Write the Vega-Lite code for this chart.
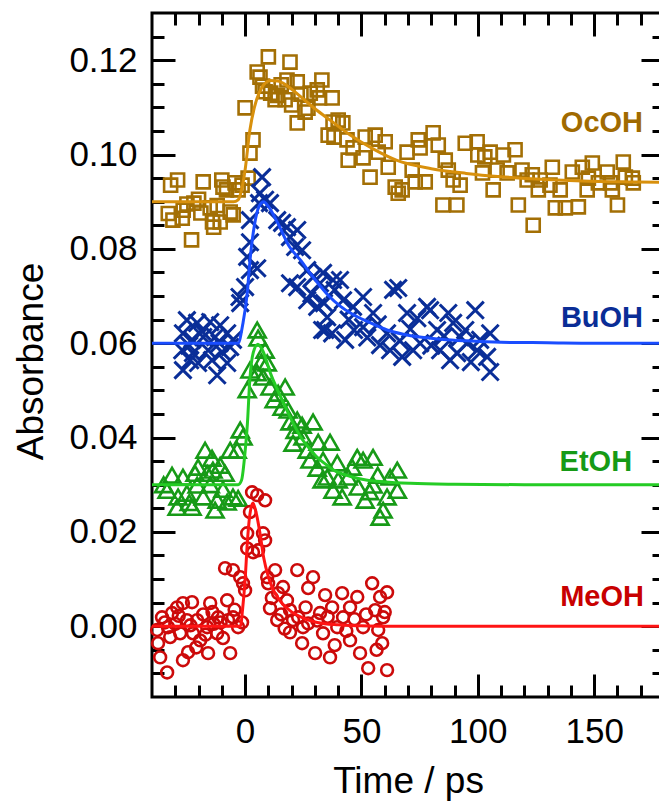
{
"$schema": "https://vega.github.io/schema/vega-lite/v6.json",
"width": 512, "height": 684,
"autosize": {"type": "none"},
"padding": {"left": 152, "top": 13, "right": 0, "bottom": 105},
"config": {"font": "Liberation Sans", "view": {"stroke": "black", "strokeWidth": 3},
  "axis": {"grid": false, "domain": false, "tickColor": "black", "tickWidth": 3, "labelColor": "black", "titleColor": "black"}},
"resolve": {"axis": {"x": "independent", "y": "independent"}},
"datasets": {
"pts": [
{"s":"OcOH","t":-32,"v":0.0935},{"s":"OcOH","t":-29,"v":0.0946},{"s":"OcOH","t":-31,"v":0.0861},{"s":"OcOH","t":-27,"v":0.0865},{"s":"OcOH","t":-26.6,"v":0.0882},{"s":"OcOH","t":-23,"v":0.0819},{"s":"OcOH","t":-22,"v":0.0897},{"s":"OcOH","t":-18,"v":0.0942},{"s":"OcOH","t":-19,"v":0.0876},{"s":"OcOH","t":-15,"v":0.0887},{"s":"OcOH","t":-14,"v":0.0857},{"s":"OcOH","t":-13.5,"v":0.0846},{"s":"OcOH","t":-10,"v":0.0946},{"s":"OcOH","t":-9.5,"v":0.0931},{"s":"OcOH","t":-10.7,"v":0.0857},{"s":"OcOH","t":-6.4,"v":0.0878},{"s":"OcOH","t":-5.1,"v":0.0872},{"s":"OcOH","t":-4.3,"v":0.094},{"s":"OcOH","t":-1.3,"v":0.0935},{"s":"OcOH","t":1.3,"v":0.095},{"s":"OcOH","t":2.1,"v":0.1003},{"s":"OcOH","t":3.4,"v":0.1031},{"s":"OcOH","t":0,"v":0.1099},{"s":"OcOH","t":5.2,"v":0.1175},{"s":"OcOH","t":6.4,"v":0.1164},{"s":"OcOH","t":10,"v":0.1207},{"s":"OcOH","t":8.6,"v":0.1133},{"s":"OcOH","t":12.9,"v":0.1116},{"s":"OcOH","t":17.2,"v":0.1116},{"s":"OcOH","t":19.3,"v":0.1196},{"s":"OcOH","t":18,"v":0.1158},{"s":"OcOH","t":22.4,"v":0.1154},{"s":"OcOH","t":22.4,"v":0.1067},{"s":"OcOH","t":25.8,"v":0.109},{"s":"OcOH","t":28,"v":0.113},{"s":"OcOH","t":31,"v":0.1137},{"s":"OcOH","t":33,"v":0.1158},{"s":"OcOH","t":32,"v":0.112},{"s":"OcOH","t":35.7,"v":0.1041},{"s":"OcOH","t":37.8,"v":0.1069},
{"s":"OcOH","t":-33,"v":0.0875},{"s":"OcOH","t":-25,"v":0.0895},{"s":"OcOH","t":-20,"v":0.0905},{"s":"OcOH","t":-12,"v":0.0892},{"s":"OcOH","t":-8,"v":0.0925},{"s":"OcOH","t":-3,"v":0.0925},{"s":"OcOH","t":7.5,"v":0.1145},{"s":"OcOH","t":11,"v":0.113},{"s":"OcOH","t":14,"v":0.1125},{"s":"OcOH","t":15.5,"v":0.1148},{"s":"OcOH","t":20,"v":0.1105},{"s":"OcOH","t":24,"v":0.1128},{"s":"OcOH","t":27,"v":0.1098},
{"s":"OcOH","t":37.4,"v":0.112},{"s":"OcOH","t":40,"v":0.1073},{"s":"OcOH","t":42,"v":0.1067},{"s":"OcOH","t":38.2,"v":0.1037},{"s":"OcOH","t":43.8,"v":0.1031},{"s":"OcOH","t":44.3,"v":0.0988},{"s":"OcOH","t":46.4,"v":0.1014},{"s":"OcOH","t":50.7,"v":0.0993},{"s":"OcOH","t":51.6,"v":0.1037},{"s":"OcOH","t":55.9,"v":0.1041},{"s":"OcOH","t":53.7,"v":0.0952},{"s":"OcOH","t":57.2,"v":0.1005},{"s":"OcOH","t":60.2,"v":0.1027},{"s":"OcOH","t":61.5,"v":0.0973},{"s":"OcOH","t":64.5,"v":0.0931},{"s":"OcOH","t":67.5,"v":0.0925},{"s":"OcOH","t":65.8,"v":0.0918},{"s":"OcOH","t":69.6,"v":0.1005},{"s":"OcOH","t":71.8,"v":0.0967},{"s":"OcOH","t":73.1,"v":0.0942},{"s":"OcOH","t":77.4,"v":0.0942},{"s":"OcOH","t":74.4,"v":0.1031},{"s":"OcOH","t":75.2,"v":0.1014},{"s":"OcOH","t":80.8,"v":0.1046},{"s":"OcOH","t":83,"v":0.102},{"s":"OcOH","t":86,"v":0.0988},{"s":"OcOH","t":87.3,"v":0.0967},{"s":"OcOH","t":89.4,"v":0.0946},{"s":"OcOH","t":92.4,"v":0.0935},{"s":"OcOH","t":85,"v":0.0893},{"s":"OcOH","t":91,"v":0.0893},{"s":"OcOH","t":94.6,"v":0.1024},{"s":"OcOH","t":99.7,"v":0.1027},{"s":"OcOH","t":100,"v":0.0999},{"s":"OcOH","t":103,"v":0.0995},{"s":"OcOH","t":102,"v":0.0961},{"s":"OcOH","t":105.3,"v":0.1005},{"s":"OcOH","t":106.6,"v":0.0925},{"s":"OcOH","t":108.3,"v":0.0967},{"s":"OcOH","t":111,"v":0.0999},{"s":"OcOH","t":112.6,"v":0.0961},{"s":"OcOH","t":116,"v":0.101},{"s":"OcOH","t":117.4,"v":0.0893},{"s":"OcOH","t":119,"v":0.0967},{"s":"OcOH","t":121.2,"v":0.0946},{"s":"OcOH","t":123.8,"v":0.085},{"s":"OcOH","t":123.4,"v":0.0957},{"s":"OcOH","t":126,"v":0.0925},{"s":"OcOH","t":126.8,"v":0.0946},{"s":"OcOH","t":132,"v":0.0973},{"s":"OcOH","t":131,"v":0.0935},{"s":"OcOH","t":133.3,"v":0.0887},{"s":"OcOH","t":137.6,"v":0.0887},{"s":"OcOH","t":135.4,"v":0.0925},{"s":"OcOH","t":140.6,"v":0.0963},{"s":"OcOH","t":143.2,"v":0.0889},{"s":"OcOH","t":144.9,"v":0.0973},{"s":"OcOH","t":149.2,"v":0.0982},{"s":"OcOH","t":147.5,"v":0.095},{"s":"OcOH","t":147,"v":0.0925},{"s":"OcOH","t":151.8,"v":0.094},{"s":"OcOH","t":155.6,"v":0.0963},{"s":"OcOH","t":157,"v":0.094},{"s":"OcOH","t":160,"v":0.0893},{"s":"OcOH","t":157.8,"v":0.0925},{"s":"OcOH","t":162.5,"v":0.0984},{"s":"OcOH","t":163.4,"v":0.0952},{"s":"OcOH","t":166.4,"v":0.095},{"s":"OcOH","t":166.8,"v":0.094},
{"s":"BuOH","t":-25,"v":0.0649},{"s":"BuOH","t":-20.6,"v":0.0643},{"s":"BuOH","t":-15,"v":0.0645},{"s":"BuOH","t":-10.7,"v":0.0638},{"s":"BuOH","t":-26.7,"v":0.0621},{"s":"BuOH","t":-22.8,"v":0.0607},{"s":"BuOH","t":-18,"v":0.0613},{"s":"BuOH","t":-12.9,"v":0.0613},{"s":"BuOH","t":-7.7,"v":0.0621},{"s":"BuOH","t":-27,"v":0.0585},{"s":"BuOH","t":-22.4,"v":0.0579},{"s":"BuOH","t":-15.9,"v":0.0585},{"s":"BuOH","t":-9.9,"v":0.0581},{"s":"BuOH","t":-26.7,"v":0.0543},{"s":"BuOH","t":-20.2,"v":0.0558},{"s":"BuOH","t":-12,"v":0.0532},{"s":"BuOH","t":-6.4,"v":0.0592},{"s":"BuOH","t":-5.2,"v":0.0607},{"s":"BuOH","t":-23.6,"v":0.0564},{"s":"BuOH","t":-14.2,"v":0.0564},{"s":"BuOH","t":-7.7,"v":0.0558},
{"s":"BuOH","t":-2.1,"v":0.0685},{"s":"BuOH","t":-2.4,"v":0.0698},{"s":"BuOH","t":0,"v":0.0719},{"s":"BuOH","t":2.1,"v":0.0755},{"s":"BuOH","t":0.9,"v":0.0783},{"s":"BuOH","t":5.2,"v":0.0759},{"s":"BuOH","t":2.1,"v":0.0814},{"s":"BuOH","t":2.1,"v":0.0861},{"s":"BuOH","t":6.4,"v":0.0918},{"s":"BuOH","t":7.3,"v":0.0952},{"s":"BuOH","t":8.6,"v":0.0904},{"s":"BuOH","t":6.0,"v":0.0897},{"s":"BuOH","t":10.7,"v":0.0897},{"s":"BuOH","t":13.8,"v":0.0861},{"s":"BuOH","t":15.9,"v":0.0855},{"s":"BuOH","t":18,"v":0.0846},{"s":"BuOH","t":19.3,"v":0.0825},{"s":"BuOH","t":22.4,"v":0.084},{"s":"BuOH","t":21.5,"v":0.0804},{"s":"BuOH","t":24.5,"v":0.0797},{"s":"BuOH","t":19.3,"v":0.0727},{"s":"BuOH","t":22.4,"v":0.0719},{"s":"BuOH","t":26.7,"v":0.0755},{"s":"BuOH","t":29.2,"v":0.074},{"s":"BuOH","t":32.2,"v":0.0727},{"s":"BuOH","t":26.7,"v":0.0691},{"s":"BuOH","t":31,"v":0.0677},{"s":"BuOH","t":35.3,"v":0.0655},{"s":"BuOH","t":33.1,"v":0.0628},{"s":"BuOH","t":37.4,"v":0.0621},{"s":"BuOH","t":37.8,"v":0.0734},
{"s":"BuOH","t":33.5,"v":0.0749},{"s":"BuOH","t":40.8,"v":0.0734},{"s":"BuOH","t":38.5,"v":0.0713},{"s":"BuOH","t":33.9,"v":0.0685},{"s":"BuOH","t":34.4,"v":0.0628},{"s":"BuOH","t":42.1,"v":0.0691},{"s":"BuOH","t":46.4,"v":0.0677},{"s":"BuOH","t":50.7,"v":0.0698},{"s":"BuOH","t":55,"v":0.0664},{"s":"BuOH","t":43,"v":0.0607},{"s":"BuOH","t":46.8,"v":0.0628},{"s":"BuOH","t":50.7,"v":0.0634},{"s":"BuOH","t":58,"v":0.0596},{"s":"BuOH","t":63.6,"v":0.0713},{"s":"BuOH","t":65.8,"v":0.0717},{"s":"BuOH","t":61,"v":0.0621},{"s":"BuOH","t":62.3,"v":0.0585},{"s":"BuOH","t":67.5,"v":0.0571},{"s":"BuOH","t":69.6,"v":0.0664},{"s":"BuOH","t":74,"v":0.0653},{"s":"BuOH","t":78.2,"v":0.0677},{"s":"BuOH","t":79.5,"v":0.067},{"s":"BuOH","t":75.2,"v":0.06},{"s":"BuOH","t":72.2,"v":0.0585},{"s":"BuOH","t":82.5,"v":0.0628},{"s":"BuOH","t":87.3,"v":0.0664},{"s":"BuOH","t":89.4,"v":0.0643},{"s":"BuOH","t":83.8,"v":0.0585},{"s":"BuOH","t":88.1,"v":0.0564},{"s":"BuOH","t":91.1,"v":0.0579},{"s":"BuOH","t":94.6,"v":0.0628},{"s":"BuOH","t":98.9,"v":0.067},{"s":"BuOH","t":95.4,"v":0.06},{"s":"BuOH","t":101,"v":0.0607},{"s":"BuOH","t":105.3,"v":0.0621},{"s":"BuOH","t":104,"v":0.0571},{"s":"BuOH","t":105.3,"v":0.0539},{"s":"BuOH","t":99.7,"v":0.0585},{"s":"BuOH","t":92.4,"v":0.0613},
{"s":"BuOH","t":-24,"v":0.0595},{"s":"BuOH","t":-18.5,"v":0.0625},{"s":"BuOH","t":-11,"v":0.0600},{"s":"BuOH","t":28.5,"v":0.0705},{"s":"BuOH","t":44.5,"v":0.0650},{"s":"BuOH","t":52.5,"v":0.0612},{"s":"BuOH","t":57,"v":0.0640},{"s":"BuOH","t":66.5,"v":0.0605},{"s":"BuOH","t":71,"v":0.0630},{"s":"BuOH","t":80,"v":0.0595},{"s":"BuOH","t":85.5,"v":0.0615},{"s":"BuOH","t":97,"v":0.0560},
{"s":"EtOH","t":-31.4,"v":0.032},{"s":"EtOH","t":-33.5,"v":0.0288},{"s":"EtOH","t":-28.8,"v":0.0274},{"s":"EtOH","t":-29.2,"v":0.0252},{"s":"EtOH","t":-25,"v":0.0282},{"s":"EtOH","t":-21.5,"v":0.0324},{"s":"EtOH","t":-22.8,"v":0.0252},{"s":"EtOH","t":-20.6,"v":0.0299},{"s":"EtOH","t":-17.2,"v":0.0373},{"s":"EtOH","t":-14.2,"v":0.0356},{"s":"EtOH","t":-18,"v":0.0274},{"s":"EtOH","t":-16.3,"v":0.0324},{"s":"EtOH","t":-12.9,"v":0.0246},{"s":"EtOH","t":-13.8,"v":0.0331},{"s":"EtOH","t":-12,"v":0.0267},{"s":"EtOH","t":-10.7,"v":0.0341},{"s":"EtOH","t":-8.6,"v":0.0324},{"s":"EtOH","t":-7.7,"v":0.0263},{"s":"EtOH","t":-6.4,"v":0.0373},{"s":"EtOH","t":-5.2,"v":0.0274},{"s":"EtOH","t":-3.4,"v":0.0373},{"s":"EtOH","t":-2.1,"v":0.0416},{"s":"EtOH","t":-0.9,"v":0.0401},{"s":"EtOH","t":-3,"v":0.0271},{"s":"EtOH","t":-26.7,"v":0.0316},{"s":"EtOH","t":-20.2,"v":0.0337},
{"s":"EtOH","t":-35,"v":0.0300},{"s":"EtOH","t":-24,"v":0.0262},{"s":"EtOH","t":-9.5,"v":0.0290},{"s":"EtOH","t":-15,"v":0.0300},
{"s":"EtOH","t":0.9,"v":0.0501},{"s":"EtOH","t":2.1,"v":0.0543},{"s":"EtOH","t":5.2,"v":0.0628},{"s":"EtOH","t":5.6,"v":0.0611},{"s":"EtOH","t":5.2,"v":0.0537},{"s":"EtOH","t":7.7,"v":0.0528},{"s":"EtOH","t":8.6,"v":0.0585},{"s":"EtOH","t":9.5,"v":0.0558},{"s":"EtOH","t":10.7,"v":0.0507},{"s":"EtOH","t":14.2,"v":0.0494},{"s":"EtOH","t":17.2,"v":0.0507},{"s":"EtOH","t":15.9,"v":0.0464},{"s":"EtOH","t":18.5,"v":0.0458},{"s":"EtOH","t":19.3,"v":0.0433},{"s":"EtOH","t":22.4,"v":0.0437},{"s":"EtOH","t":24.5,"v":0.0426},{"s":"EtOH","t":29.2,"v":0.0433},{"s":"EtOH","t":20.6,"v":0.0388},{"s":"EtOH","t":24.9,"v":0.0401},{"s":"EtOH","t":26.7,"v":0.0373},{"s":"EtOH","t":31.4,"v":0.039},{"s":"EtOH","t":36.5,"v":0.039},{"s":"EtOH","t":27.9,"v":0.0352},{"s":"EtOH","t":31,"v":0.0335},{"s":"EtOH","t":33.5,"v":0.0352},{"s":"EtOH","t":35.3,"v":0.0316},{"s":"EtOH","t":39.6,"v":0.0346},{"s":"EtOH","t":37.8,"v":0.0288},{"s":"EtOH","t":41.7,"v":0.0274},{"s":"EtOH","t":46,"v":0.0337},{"s":"EtOH","t":48.2,"v":0.0358},{"s":"EtOH","t":50.7,"v":0.0352},{"s":"EtOH","t":55,"v":0.0358},{"s":"EtOH","t":48.6,"v":0.0295},{"s":"EtOH","t":51.6,"v":0.0267},{"s":"EtOH","t":55,"v":0.0299},{"s":"EtOH","t":59.3,"v":0.0246},{"s":"EtOH","t":58,"v":0.0231},{"s":"EtOH","t":61,"v":0.0274},{"s":"EtOH","t":65.4,"v":0.0331},{"s":"EtOH","t":65.4,"v":0.0288},{"s":"EtOH","t":62.3,"v":0.0316},{"s":"EtOH","t":44.3,"v":0.0316},{"s":"EtOH","t":33.1,"v":0.031},
{"s":"EtOH","t":7,"v":0.0560},{"s":"EtOH","t":12.5,"v":0.0480},{"s":"EtOH","t":21.5,"v":0.0415},{"s":"EtOH","t":40,"v":0.0310},{"s":"EtOH","t":53.5,"v":0.0285},{"s":"EtOH","t":57,"v":0.0320},
{"s":"MeOH","t":-37.8,"v":-0.0008},{"s":"MeOH","t":-37.4,"v":-0.0036},{"s":"MeOH","t":-36.5,"v":-0.0066},{"s":"MeOH","t":-33.5,"v":-0.0098},{"s":"MeOH","t":-35.7,"v":0.0019},{"s":"MeOH","t":-33.1,"v":-0.0002},{"s":"MeOH","t":-31.4,"v":0.0028},{"s":"MeOH","t":-29.2,"v":0.004},{"s":"MeOH","t":-26.7,"v":0.0049},{"s":"MeOH","t":-22.8,"v":0.0051},{"s":"MeOH","t":-32.2,"v":-0.0023},{"s":"MeOH","t":-26.7,"v":-0.0072},{"s":"MeOH","t":-24.5,"v":-0.0055},{"s":"MeOH","t":-27.9,"v":-0.0015},{"s":"MeOH","t":-25,"v":0.0013},{"s":"MeOH","t":-20.6,"v":0.0013},{"s":"MeOH","t":-19.3,"v":-0.003},{"s":"MeOH","t":-22.4,"v":-0.0015},{"s":"MeOH","t":-15.9,"v":-0.0057},{"s":"MeOH","t":-15,"v":0.0049},{"s":"MeOH","t":-16.3,"v":-0.0002},{"s":"MeOH","t":-12,"v":-0.0015},{"s":"MeOH","t":-11.6,"v":0.0019},{"s":"MeOH","t":-7.7,"v":0.0055},{"s":"MeOH","t":-7.3,"v":0.0013},{"s":"MeOH","t":-6.4,"v":-0.0057},{"s":"MeOH","t":-5.2,"v":0.0019},{"s":"MeOH","t":-3,"v":-0.0002},{"s":"MeOH","t":-1.3,"v":0.0008},{"s":"MeOH","t":-8.6,"v":0.0123},{"s":"MeOH","t":-5.2,"v":0.0119},{"s":"MeOH","t":-2.1,"v":0.0104},{"s":"MeOH","t":-0.9,"v":0.0091},{"s":"MeOH","t":0,"v":0.0076},
{"s":"MeOH","t":-18,"v":0.0025},{"s":"MeOH","t":-13.5,"v":0.0005},{"s":"MeOH","t":-9.5,"v":-0.0025},{"s":"MeOH","t":-30,"v":0.0005},{"s":"MeOH","t":-21,"v":-0.0045},{"s":"MeOH","t":-34.5,"v":0.0008},{"s":"MeOH","t":-28.5,"v":0.0022},{"s":"MeOH","t":-23.5,"v":0.0002},{"s":"MeOH","t":-17,"v":-0.0018},{"s":"MeOH","t":-14,"v":0.0030},{"s":"MeOH","t":-10.5,"v":0.0008},{"s":"MeOH","t":-4.5,"v":0.0035},
{"s":"MeOH","t":0.9,"v":0.0197},{"s":"MeOH","t":0.9,"v":0.0165},{"s":"MeOH","t":2.1,"v":0.0242},{"s":"MeOH","t":3,"v":0.0284},{"s":"MeOH","t":5.2,"v":0.0278},{"s":"MeOH","t":8.6,"v":0.0267},{"s":"MeOH","t":3.4,"v":0.0157},{"s":"MeOH","t":5.6,"v":0.0161},{"s":"MeOH","t":7.7,"v":0.0197},{"s":"MeOH","t":8.6,"v":0.0182},{"s":"MeOH","t":9.5,"v":0.0104},{"s":"MeOH","t":9.9,"v":0.0091},{"s":"MeOH","t":12.9,"v":0.0119},{"s":"MeOH","t":10.7,"v":0.0038},{"s":"MeOH","t":13.8,"v":0.0013},{"s":"MeOH","t":14.2,"v":0.007},{"s":"MeOH","t":16.3,"v":0.0083},{"s":"MeOH","t":18,"v":0.0055},{"s":"MeOH","t":19.3,"v":0.0034},{"s":"MeOH","t":19.3,"v":-0.0013},{"s":"MeOH","t":22.4,"v":0.0119},{"s":"MeOH","t":22.8,"v":0.0019},{"s":"MeOH","t":24.5,"v":-0.0036},{"s":"MeOH","t":27.1,"v":0.0081},{"s":"MeOH","t":29.2,"v":0.0104},{"s":"MeOH","t":27.1,"v":0.0006},{"s":"MeOH","t":30.1,"v":-0.0057},{"s":"MeOH","t":32.2,"v":0.0028},{"s":"MeOH","t":34.4,"v":0.0066},{"s":"MeOH","t":33.5,"v":-0.0015},{"s":"MeOH","t":36.5,"v":-0.0066},{"s":"MeOH","t":37.4,"v":0.004},{"s":"MeOH","t":39.6,"v":-0.0002},{"s":"MeOH","t":41.7,"v":0.007},{"s":"MeOH","t":42.1,"v":0.0019},{"s":"MeOH","t":45.1,"v":-0.003},{"s":"MeOH","t":45.1,"v":0.004},{"s":"MeOH","t":48.2,"v":0.0062},{"s":"MeOH","t":50.7,"v":-0.0002},{"s":"MeOH","t":49.4,"v":-0.0057},{"s":"MeOH","t":54.6,"v":0.0091},{"s":"MeOH","t":52.9,"v":-0.0089},{"s":"MeOH","t":55.9,"v":0.0034},{"s":"MeOH","t":58,"v":0.0062},{"s":"MeOH","t":59.3,"v":0.0019},{"s":"MeOH","t":58.9,"v":-0.0036},{"s":"MeOH","t":61,"v":0.0072},{"s":"MeOH","t":61,"v":-0.0093},{"s":"MeOH","t":57.2,"v":-0.0008},{"s":"MeOH","t":20.6,"v":0.0013},{"s":"MeOH","t":24.9,"v":-0.0002},
{"s":"MeOH","t":11.5,"v":0.0060},{"s":"MeOH","t":15.5,"v":0.0025},{"s":"MeOH","t":17,"v":-0.0005},{"s":"MeOH","t":26,"v":0.0040},{"s":"MeOH","t":31,"v":0.0012},{"s":"MeOH","t":35.5,"v":0.0020},{"s":"MeOH","t":38.5,"v":-0.0040},{"s":"MeOH","t":43.5,"v":-0.0010},{"s":"MeOH","t":47,"v":0.0015},{"s":"MeOH","t":52,"v":0.0025},{"s":"MeOH","t":56.5,"v":-0.0050},{"s":"MeOH","t":60,"v":0.0030}
],
"fit": [
{"s":"OcOH","t":-40,"v":0.09},{"s":"OcOH","t":-5,"v":0.09},{"s":"OcOH","t":-3,"v":0.0904},{"s":"OcOH","t":-1.5,"v":0.0925},{"s":"OcOH","t":0,"v":0.0967},{"s":"OcOH","t":2,"v":0.105},{"s":"OcOH","t":4,"v":0.11},{"s":"OcOH","t":6,"v":0.113},{"s":"OcOH","t":8,"v":0.1148},{"s":"OcOH","t":11,"v":0.1157},{"s":"OcOH","t":14,"v":0.1156},{"s":"OcOH","t":18,"v":0.1146},{"s":"OcOH","t":24,"v":0.1122},{"s":"OcOH","t":30,"v":0.1097},{"s":"OcOH","t":36.5,"v":0.1073},{"s":"OcOH","t":45,"v":0.1042},{"s":"OcOH","t":55,"v":0.1012},{"s":"OcOH","t":65,"v":0.0988},{"s":"OcOH","t":80,"v":0.097},{"s":"OcOH","t":95,"v":0.096},{"s":"OcOH","t":110,"v":0.0953},{"s":"OcOH","t":125,"v":0.0948},{"s":"OcOH","t":145,"v":0.0944},{"s":"OcOH","t":165,"v":0.0942},{"s":"OcOH","t":180,"v":0.0941},
{"s":"BuOH","t":-40,"v":0.06},{"s":"BuOH","t":-3,"v":0.06},{"s":"BuOH","t":-1,"v":0.064},{"s":"BuOH","t":1,"v":0.071},{"s":"BuOH","t":2,"v":0.077},{"s":"BuOH","t":4,"v":0.085},{"s":"BuOH","t":6,"v":0.089},{"s":"BuOH","t":8,"v":0.09},{"s":"BuOH","t":10,"v":0.089},{"s":"BuOH","t":14,"v":0.0855},{"s":"BuOH","t":19,"v":0.0805},{"s":"BuOH","t":24,"v":0.0775},{"s":"BuOH","t":28,"v":0.0748},{"s":"BuOH","t":32,"v":0.0723},{"s":"BuOH","t":36,"v":0.07},{"s":"BuOH","t":41,"v":0.0678},{"s":"BuOH","t":46,"v":0.0662},{"s":"BuOH","t":53,"v":0.0645},{"s":"BuOH","t":61,"v":0.0628},{"s":"BuOH","t":68,"v":0.0619},{"s":"BuOH","t":75,"v":0.0613},{"s":"BuOH","t":85,"v":0.0608},{"s":"BuOH","t":95,"v":0.0605},{"s":"BuOH","t":110,"v":0.0602},{"s":"BuOH","t":130,"v":0.0601},{"s":"BuOH","t":150,"v":0.06},{"s":"BuOH","t":180,"v":0.06},
{"s":"EtOH","t":-40,"v":0.03},{"s":"EtOH","t":-3,"v":0.03},{"s":"EtOH","t":-1.5,"v":0.031},{"s":"EtOH","t":0,"v":0.037},{"s":"EtOH","t":1,"v":0.043},{"s":"EtOH","t":2,"v":0.052},{"s":"EtOH","t":3.5,"v":0.058},{"s":"EtOH","t":5.5,"v":0.0598},{"s":"EtOH","t":7.5,"v":0.0585},{"s":"EtOH","t":11,"v":0.0535},{"s":"EtOH","t":14,"v":0.05},{"s":"EtOH","t":17,"v":0.0468},{"s":"EtOH","t":20,"v":0.0437},{"s":"EtOH","t":24,"v":0.04},{"s":"EtOH","t":28,"v":0.0375},{"s":"EtOH","t":31,"v":0.0358},{"s":"EtOH","t":35,"v":0.0342},{"s":"EtOH","t":38,"v":0.0331},{"s":"EtOH","t":45,"v":0.0318},{"s":"EtOH","t":52,"v":0.031},{"s":"EtOH","t":60,"v":0.0306},{"s":"EtOH","t":71,"v":0.0303},{"s":"EtOH","t":90,"v":0.0301},{"s":"EtOH","t":120,"v":0.03},{"s":"EtOH","t":180,"v":0.03},
{"s":"MeOH","t":-40,"v":0},{"s":"MeOH","t":-2,"v":0},{"s":"MeOH","t":-1,"v":0.004},{"s":"MeOH","t":0,"v":0.0098},{"s":"MeOH","t":1,"v":0.018},{"s":"MeOH","t":2,"v":0.0235},{"s":"MeOH","t":3.4,"v":0.0261},{"s":"MeOH","t":5,"v":0.0235},{"s":"MeOH","t":6.4,"v":0.0197},{"s":"MeOH","t":8,"v":0.0145},{"s":"MeOH","t":10,"v":0.0105},{"s":"MeOH","t":12,"v":0.0078},{"s":"MeOH","t":15,"v":0.0054},{"s":"MeOH","t":19,"v":0.0034},{"s":"MeOH","t":25,"v":0.0017},{"s":"MeOH","t":31,"v":0.0008},{"s":"MeOH","t":40,"v":0.0003},{"s":"MeOH","t":50,"v":0.0001},{"s":"MeOH","t":60,"v":0},{"s":"MeOH","t":180,"v":0}
],
"lab": [
{"s":"OcOH","t":171,"v":0.1067},{"s":"BuOH","t":171,"v":0.0654},{"s":"EtOH","t":166.3,"v":0.0349},{"s":"MeOH","t":171.4,"v":0.0062}
]
},
"layer": [
{"data":{"name":"pts"},"transform":[{"filter":"datum.s==='OcOH'"}],
 "mark":{"type":"point","shape":"square","filled":false,"size":170,"strokeWidth":2.6,"color":"#a36f05","opacity":1},
 "encoding":{
  "x":{"field":"t","type":"quantitative","scale":{"domain":[-40,180],"nice":false,"zero":false},
   "axis":{"orient":"bottom","values":[0,50,100,150],"ticks":false,"labelFontSize":35,"labelPadding":17,"labelFlush":false,"labelOverlap":false,"title":"Time / ps","titleFontSize":37,"titleFontWeight":"normal","titleY":95,"titleBaseline":"alphabetic"}},
  "y":{"field":"v","type":"quantitative","scale":{"domain":[-0.015,0.13],"nice":false,"zero":false},
   "axis":{"orient":"left","values":[0,0.02,0.04,0.06,0.08,0.1,0.12],"format":".2f","ticks":false,"labelFontSize":35,"labelPadding":15,"labelFlush":false,"labelOverlap":false,"title":"Absorbance","titleFontSize":37,"titleFontWeight":"normal","titleX":-110,"titleY":348,"titleAngle":-90,"titleBaseline":"alphabetic","titleAlign":"center"}}}},
{"data":{"name":"pts"},"transform":[{"filter":"datum.s==='BuOH'"}],
 "mark":{"type":"point","shape":"M-1,-1L1,1M-1,1L1,-1","filled":false,"size":290,"strokeWidth":3,"color":"#0a2e98","opacity":1},
 "encoding":{
  "x":{"field":"t","type":"quantitative","scale":{"domain":[-40,180],"nice":false,"zero":false},
   "axis":{"orient":"bottom","values":[0,50,100,150],"labels":false,"tickSize":-23,"title":null}},
  "y":{"field":"v","type":"quantitative","scale":{"domain":[-0.015,0.13],"nice":false,"zero":false},
   "axis":{"orient":"left","values":[0,0.02,0.04,0.06,0.08,0.1,0.12],"labels":false,"tickSize":-23,"title":null}}}},
{"data":{"name":"pts"},"transform":[{"filter":"datum.s==='EtOH'"}],
 "mark":{"type":"point","shape":"triangle-up","filled":false,"size":290,"strokeWidth":2.6,"color":"#179a17","opacity":1},
 "encoding":{
  "x":{"field":"t","type":"quantitative","scale":{"domain":[-40,180],"nice":false,"zero":false},
   "axis":{"orient":"bottom","values":[-30,-20,-10,10,20,30,40,60,70,80,90,110,120,130,140,160,170],"labels":false,"tickSize":-12,"title":null}},
  "y":{"field":"v","type":"quantitative","scale":{"domain":[-0.015,0.13],"nice":false,"zero":false},
   "axis":{"orient":"left","values":[-0.01,-0.005,0.005,0.01,0.015,0.025,0.03,0.035,0.045,0.05,0.055,0.065,0.07,0.075,0.085,0.09,0.095,0.105,0.11,0.115,0.125],"labels":false,"tickSize":-12,"title":null}}}},
{"data":{"name":"pts"},"transform":[{"filter":"datum.s==='MeOH'"}],
 "mark":{"type":"point","shape":"circle","filled":false,"size":140,"strokeWidth":2.6,"color":"#cc0a0a","opacity":1},
 "encoding":{
  "x":{"field":"t","type":"quantitative","scale":{"domain":[-40,180],"nice":false,"zero":false},
   "axis":{"orient":"top","values":[0,50,100,150],"labels":false,"tickSize":-23,"title":null}},
  "y":{"field":"v","type":"quantitative","scale":{"domain":[-0.015,0.13],"nice":false,"zero":false},
   "axis":{"orient":"right","values":[0,0.02,0.04,0.06,0.08,0.1,0.12],"labels":false,"tickSize":-23,"title":null}}}},
{"data":{"name":"fit"},"transform":[{"filter":"datum.s==='OcOH'"}],
 "mark":{"type":"line","interpolate":"monotone","strokeWidth":3,"color":"#d8900c"},
 "encoding":{
  "x":{"field":"t","type":"quantitative","scale":{"domain":[-40,180],"nice":false,"zero":false},
   "axis":{"orient":"top","values":[-30,-20,-10,10,20,30,40,60,70,80,90,110,120,130,140,160,170],"labels":false,"tickSize":-12,"title":null}},
  "y":{"field":"v","type":"quantitative","scale":{"domain":[-0.015,0.13],"nice":false,"zero":false},
   "axis":{"orient":"right","values":[-0.01,-0.005,0.005,0.01,0.015,0.025,0.03,0.035,0.045,0.05,0.055,0.065,0.07,0.075,0.085,0.09,0.095,0.105,0.11,0.115,0.125],"labels":false,"tickSize":-12,"title":null}}}},
{"data":{"name":"fit"},"transform":[{"filter":"datum.s==='BuOH'"}],
 "mark":{"type":"line","interpolate":"monotone","strokeWidth":3,"color":"#1a4dff"},
 "encoding":{"x":{"field":"t","type":"quantitative","axis":null},"y":{"field":"v","type":"quantitative","axis":null}}},
{"data":{"name":"fit"},"transform":[{"filter":"datum.s==='EtOH'"}],
 "mark":{"type":"line","interpolate":"monotone","strokeWidth":3,"color":"#25cc25"},
 "encoding":{"x":{"field":"t","type":"quantitative","axis":null},"y":{"field":"v","type":"quantitative","axis":null}}},
{"data":{"name":"fit"},"transform":[{"filter":"datum.s==='MeOH'"}],
 "mark":{"type":"line","interpolate":"monotone","strokeWidth":3,"color":"#ff1414"},
 "encoding":{"x":{"field":"t","type":"quantitative","axis":null},"y":{"field":"v","type":"quantitative","axis":null}}},
{"data":{"name":"lab"},
 "mark":{"type":"text","align":"right","baseline":"middle","fontSize":29,"fontWeight":"bold"},
 "encoding":{"x":{"field":"t","type":"quantitative","axis":null},"y":{"field":"v","type":"quantitative","axis":null},
  "text":{"field":"s"},
  "color":{"field":"s","type":"nominal","legend":null,"scale":{"domain":["OcOH","BuOH","EtOH","MeOH"],"range":["#a06a00","#0a2d96","#169a16","#c80000"]}}}}
]
}
